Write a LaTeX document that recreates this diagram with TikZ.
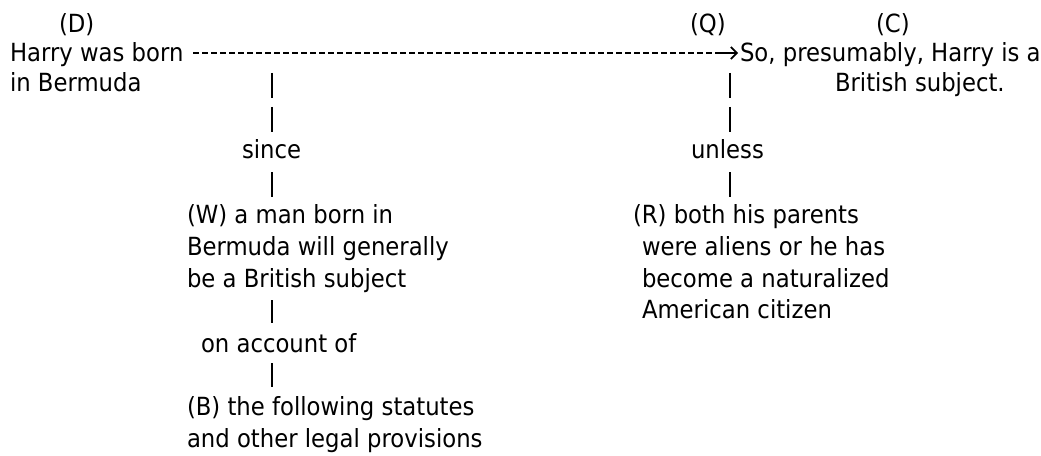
\documentclass[tikz,border=0pt]{standalone}
\usepackage{fontspec}
\setmainfont{DejaVu Sans}[FakeStretch=0.91]
\usetikzlibrary{arrows.meta}
\begin{document}
\begin{tikzpicture}[x=0.75pt,y=-0.75pt,
  txt/.style={anchor=base west,inner sep=0pt,outer sep=0pt,font=\fontsize{18.75pt}{24pt}\selectfont},
  dashline/.style={line width=1.4pt,dash pattern=on 4.5pt off 2.25pt},
  arrline/.style={line width=1.3pt,-{Straight Barb[length=4.5pt,width=9pt,line width=1.3pt]}},
  pipe/.style={line width=1.3pt},
  pipes/.style={line width=1.3pt,dash pattern=on 18.75pt off 6.75pt}]
\useasboundingbox[fill=white] (0,0) rectangle (1041,456);
% labels and texts
\node[txt] (D0) at (59,33) {(D)};
\node[txt] (D1) at (10,62) {Harry was born};
\node[txt] (D2) at (10,92) {in Bermuda};
\node[txt] (Q0) at (690,33) {(Q)};
\node[txt] (C0) at (876,33) {(C)};
\node[txt] (C1) at (740,62) {So, presumably, Harry is a};
\node[txt] (C2) at (835,92) {British subject.};
\node[txt] (since) at (242,159) {since};
\node[txt] (unless) at (691,159) {unless};
\node[txt] (W1) at (187,223) {(W) a man born in};
\node[txt] (W2) at (187,255) {Bermuda will generally};
\node[txt] (W3) at (187,287) {be a British subject};
\node[txt] (onacc) at (201,352) {on account of};
\node[txt] (B1) at (187,415) {(B) the following statutes};
\node[txt] (B2) at (187,447) {and other legal provisions};
\node[txt] (R1) at (633,223) {(R) both his parents};
\node[txt] (R2) at (642,255) {were aliens or he has};
\node[txt] (R3) at (642,287) {become a naturalized};
\node[txt] (R4) at (642,318) {American citizen};
% connector end points
\coordinate (mS) at (193,53);
\coordinate (mM) at (721,53);
\coordinate (mE) at (738,53);
\coordinate (wa) at (272,73);  \coordinate (wb) at (272,132);
\coordinate (wc) at (272,172); \coordinate (wd) at (272,197);
\coordinate (we) at (272,300); \coordinate (wf) at (272,323);
\coordinate (wg) at (272,363); \coordinate (wh) at (272,387);
\coordinate (qa) at (730,73);  \coordinate (qb) at (730,132);
\coordinate (qc) at (730,172); \coordinate (qd) at (730,197);
% main line D -> C
\draw[dashline] (mS) -- (mM);
\draw[arrline] (mM) -- (mE);
% warrant branch
\draw[pipes] (wa) -- (wb);
\draw[pipe] (wc) -- (wd);
\draw[pipe] (we) -- (wf);
\draw[pipe] (wg) -- (wh);
% qualifier / rebuttal branch
\draw[pipes] (qa) -- (qb);
\draw[pipe] (qc) -- (qd);
\end{tikzpicture}
\end{document}
